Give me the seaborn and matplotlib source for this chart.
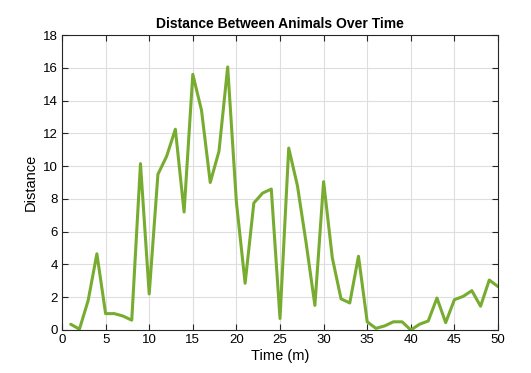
import numpy as np
import pandas as pd
import seaborn as sns
import matplotlib.pyplot as plt

# ── Data ─────────────────────────────────────────────────────────────
time_m = list(range(1, 51))
distance = [
    0.35, 0.05, 1.8, 4.65, 1.0, 1.0, 0.85, 0.6, 10.15, 2.2,
    9.5, 10.6, 12.25, 7.2, 15.6, 13.4, 9.0, 10.9, 16.05, 7.8,
    2.85, 7.75, 8.35, 8.6, 0.7, 11.1, 8.8, 5.3, 1.5, 9.05,
    4.4, 1.9, 1.65, 4.5, 0.5, 0.1, 0.25, 0.5, 0.5, 0.0,
    0.35, 0.55, 1.95, 0.45, 1.85, 2.05, 2.4, 1.45, 3.05, 2.65,
]
x_ticks = [0, 5, 10, 15, 20, 25, 30, 35, 40, 45, 50]
y_ticks = [0, 2, 4, 6, 8, 10, 12, 14, 16, 18]

df = pd.DataFrame({'Time': time_m, 'Distance': distance})

# ── Style ────────────────────────────────────────────────────────────
sns.set_style('whitegrid', {'text.color': 'black', 'axes.labelcolor': 'black',
                            'xtick.color': 'black', 'ytick.color': 'black'})
plt.rcParams['font.family'] = ['Liberation Sans', 'DejaVu Sans']

fig = plt.figure(figsize=(5.31, 3.73), dpi=100)
ax = fig.add_axes([62 / 531, 1 - 330 / 373, 436 / 531, 295 / 373])

sns.lineplot(data=df, x='Time', y='Distance', color='#77AC30', lw=2.2, ax=ax)

ax.set_xlim(0, 50)
ax.set_ylim(0, 18)
ax.set_xticks(x_ticks)
ax.set_yticks(y_ticks)
ax.grid(True, color='#dedede', lw=0.8)
for s in ax.spines.values():
    s.set_visible(True)
    s.set_color('#262626')
    s.set_linewidth(0.8)
ax.tick_params(axis='both', direction='in', length=4, width=0.8, color='#262626',
               labelsize=9.5, top=True, right=True, bottom=True, left=True,
               pad=3)

ax.set_xlabel('Time (m)', fontsize=10.5, labelpad=2)
ax.set_ylabel('Distance', fontsize=10.5, labelpad=4)
ax.set_title('Distance Between Animals Over Time', fontsize=10,
             fontweight='bold', pad=5)

fig.savefig('out.png', dpi=100)
